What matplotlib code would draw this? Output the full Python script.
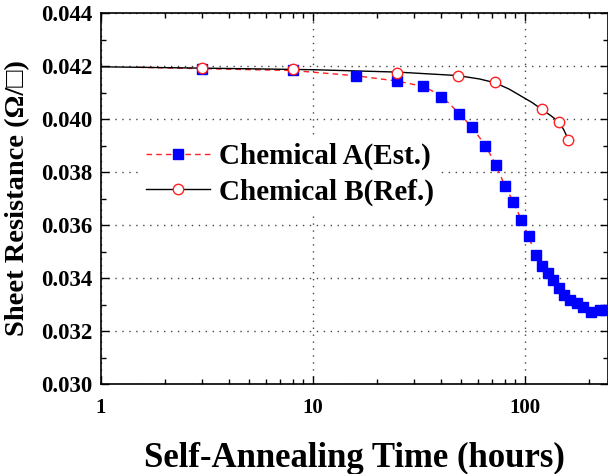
import matplotlib
matplotlib.use('Agg')
import matplotlib.pyplot as plt
from matplotlib.lines import Line2D
from matplotlib.ticker import MultipleLocator, LogLocator, NullFormatter, FixedLocator, FixedFormatter

plt.rcParams['font.family'] = ['Liberation Serif', 'DejaVu Serif']
plt.rcParams['font.weight'] = 'bold'
plt.rcParams['mathtext.default'] = 'regular'

# ---- data ----
a_time = [3, 8, 16, 25, 33, 40, 49, 56, 65, 73, 80, 88, 96, 104, 112, 120,
          128, 136, 144, 153, 163, 175, 188, 205, 225, 238]
a_res = [0.04190, 0.04185, 0.04162, 0.04143, 0.04123, 0.04083, 0.04019, 0.03971,
         0.03899, 0.03826, 0.03748, 0.03688, 0.03619, 0.03557, 0.03485, 0.03445,
         0.03418, 0.03392, 0.03362, 0.03337, 0.03317, 0.03304, 0.03292, 0.03273,
         0.03278, 0.03280]

a_curve_time = [1.5, 3, 8, 16, 25, 33, 40, 49, 56, 65, 73, 80, 88, 96, 104, 108]
a_curve_res = [0.04195, 0.04190, 0.04183, 0.04163, 0.04143, 0.04123, 0.04090, 0.04020,
               0.03970, 0.03900, 0.03826, 0.03750, 0.03688, 0.03619, 0.03557, 0.03520]

b_time = [3, 8, 25, 48, 72, 120, 144, 160]
b_res = [0.04192, 0.04190, 0.04174, 0.04162, 0.04139, 0.04038, 0.03990, 0.03922]

b_curve_time = [1, 3, 10, 25, 48, 61, 72, 84, 95, 108, 120, 132, 144, 152, 160]
b_curve_res = [0.04197, 0.04192, 0.04186, 0.04177, 0.04164, 0.04151, 0.04137, 0.04113,
               0.04088, 0.04062, 0.04036, 0.04013, 0.03990, 0.03960, 0.03922]

x_ticks = [1, 10, 100]
x_tick_labels = ['1', '10', '100']
y_ticks = [0.030, 0.032, 0.034, 0.036, 0.038, 0.040, 0.042, 0.044]
y_tick_labels = ['0.030', '0.032', '0.034', '0.036', '0.038', '0.040', '0.042', '0.044']

label_a = 'Chemical A(Est.)'
label_b = 'Chemical B(Ref.)'

# ---- figure ----
fig = plt.figure(figsize=(6.08, 4.74), dpi=100)
ax = fig.add_axes([101/608, 90/474, 507/608, 371/474])

ax.set_xscale('log')
ax.set_xlim(1, 246)
ax.set_ylim(0.030, 0.044)

ax.grid(True, which='major', linestyle=(0, (1, 4)), color='#444444', linewidth=1.0)
ax.set_axisbelow(True)

ax.plot(a_curve_time, a_curve_res, color='#ff2020', linestyle=(0, (4, 3)), linewidth=1.0, zorder=3)
ax.plot(b_curve_time, b_curve_res, color='black', linestyle='-', linewidth=1.0, zorder=3)
ax.plot(a_time, a_res, linestyle='none', marker='s', markersize=7.5,
        markerfacecolor='#0000ff', markeredgecolor='#0000ff', zorder=4)
ax.plot(b_time, b_res, linestyle='none', marker='o', markersize=7.5,
        markerfacecolor='white', markeredgecolor='#ff2020', markeredgewidth=1.0, zorder=5)

h_a = Line2D([], [], color='#ff2020', linestyle=(0, (4, 3)), linewidth=1.0, marker='s',
             markersize=7.5, markerfacecolor='#0000ff', markeredgecolor='#0000ff')
h_b = Line2D([], [], color='black', linestyle='-', linewidth=1.0, marker='o',
             markersize=7.5, markerfacecolor='white', markeredgecolor='#ff2020')
leg = ax.legend([h_a, h_b], [label_a, label_b], loc='upper left',
                bbox_to_anchor=(0.077, 0.665), frameon=True, fancybox=False,
                facecolor='white', edgecolor='none', framealpha=1.0,
                prop={'family': ['Liberation Serif'], 'weight': 'bold', 'size': 21},
                handlelength=2.2, handletextpad=0.3, labelspacing=0.28,
                borderpad=0.2, borderaxespad=0)
leg.set_zorder(6)

ax.xaxis.set_major_locator(FixedLocator(x_ticks))
ax.xaxis.set_major_formatter(FixedFormatter(x_tick_labels))
ax.xaxis.set_minor_locator(LogLocator(base=10, subs=[2, 3, 4, 5, 6, 7, 8, 9]))
ax.xaxis.set_minor_formatter(NullFormatter())
ax.yaxis.set_major_locator(FixedLocator(y_ticks))
ax.yaxis.set_major_formatter(FixedFormatter(y_tick_labels))
ax.yaxis.set_minor_locator(MultipleLocator(0.001))

ax.tick_params(which='both', direction='in', top=True, right=True, width=1.0)
ax.tick_params(which='major', length=6)
ax.tick_params(which='minor', length=3.5)
ax.tick_params(axis='x', which='major', pad=10, labelsize=15)
ax.tick_params(axis='y', which='major', pad=6, labelsize=16.5)
for lab in ax.get_xticklabels() + ax.get_yticklabels():
    lab.set_fontweight('bold')

for sp in ax.spines.values():
    sp.set_linewidth(1.2)

ax.set_xlabel('Self-Annealing Time (hours)', fontsize=25, fontweight='bold')
ax.xaxis.set_label_coords(0.5, -0.155)
ax.set_ylabel('Sheet Resistance (Ω/□)', fontsize=20.5, fontweight='bold')
ax.yaxis.set_label_coords(-0.14, 0.5)

fig.savefig('out.png', dpi=100)
